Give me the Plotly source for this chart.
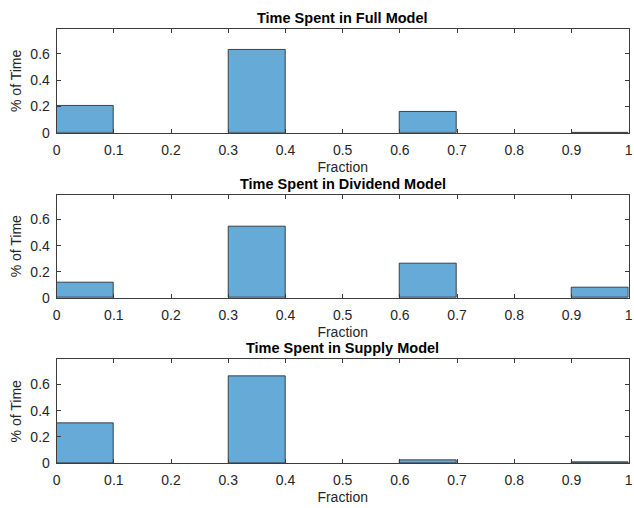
import plotly.graph_objects as go

# Histogram bin edges shared by all three panels (fraction of time)
bin_edges = [0.0, 0.1, 0.2, 0.3, 0.4, 0.5, 0.6, 0.7, 0.8, 0.9, 1.0]

# Normalised counts per bin for each model
full_model = [0.205, 0.0, 0.0, 0.630, 0.0, 0.0, 0.163, 0.0, 0.0, 0.004]
dividend_model = [0.121, 0.0, 0.0, 0.544, 0.0, 0.0, 0.259, 0.0, 0.0, 0.078]
supply_model = [0.305, 0.0, 0.0, 0.662, 0.0, 0.0, 0.026, 0.0, 0.0, 0.007]

panel_titles = ["Time Spent in Full Model",
                "Time Spent in Dividend Model",
                "Time Spent in Supply Model"]
y_ticks = [0, 0.2, 0.4, 0.6]
y_tick_text = ["0", "0.2", "0.4", "0.6"]
x_ticks = [0, 0.1, 0.2, 0.3, 0.4, 0.5, 0.6, 0.7, 0.8, 0.9, 1.0]
x_tick_text = ["0", "0.1", "0.2", "0.3", "0.4", "0.5", "0.6", "0.7", "0.8", "0.9", "1"]

W, H = 634, 508
FONT = "Liberation Sans, Arial, Helvetica, sans-serif"
AX = "#262626"
AXLINE = "#3c3c3c"
FACE = "#66aad7"

# panel boxes in pixel coordinates (top, bottom)
boxes = [(29.3, 135.0), (197.7, 302.7), (365.0, 470.7)]
x_left, x_right = 53.3, 632.7

centers = [(a + b) / 2 for a, b in zip(bin_edges[:-1], bin_edges[1:])]
widths = [b - a for a, b in zip(bin_edges[:-1], bin_edges[1:])]

fig = go.Figure()
series = [full_model, dividend_model, supply_model]
for i, (vals, title, (top, bot)) in enumerate(zip(series, panel_titles, boxes)):
    n = "" if i == 0 else str(i + 1)
    # empty bins get no outline so only the axis line shows there
    edge_w = [0.8 if v > 0 else 0 for v in vals]
    fig.add_trace(go.Bar(
        x=centers, y=vals, width=widths,
        marker=dict(color=FACE, line=dict(color="#1e1e1e", width=edge_w)),
        xaxis="x" + n, yaxis="y" + n, showlegend=False,
    ))
    dom_y = [1 - bot / H, 1 - top / H]
    common = dict(showline=True, linecolor=AXLINE, linewidth=1, mirror="allticks",
                  ticks="inside", ticklen=4, tickwidth=1, tickcolor=AXLINE,
                  showgrid=False, zeroline=False, ticklabeloverflow="allow",
                  tickfont=dict(family=FONT, size=14, color=AX))
    fig.layout["xaxis" + n] = dict(
        common, domain=[x_left / W, x_right / W], range=[0, 1],
        tickvals=x_ticks, ticktext=x_tick_text, anchor="y" + n,
        ticklabelstandoff=4,
        title=dict(text="Fraction", standoff=5,
                   font=dict(family=FONT, size=14, color=AX)))
    fig.layout["yaxis" + n] = dict(
        common, domain=dom_y, range=[0, 0.79], tickvals=y_ticks,
        ticktext=y_tick_text, anchor="x" + n, ticklabelstandoff=3,
        title=dict(text="% of Time", standoff=5,
                   font=dict(family=FONT, size=14, color=AX)))
    fig.add_annotation(
        text="<b>" + title + "</b>", xref="paper", yref="paper",
        x=(x_left + x_right) / 2 / W, y=1 - (top - 11) / H,
        xanchor="center", yanchor="middle", showarrow=False,
        font=dict(family=FONT, size=14.5, color="#000000"))

fig.update_layout(
    width=W, height=H, bargap=0,
    margin=dict(l=0, r=0, t=0, b=0),
    paper_bgcolor="white", plot_bgcolor="white",
)
fig.write_html("out.html")
